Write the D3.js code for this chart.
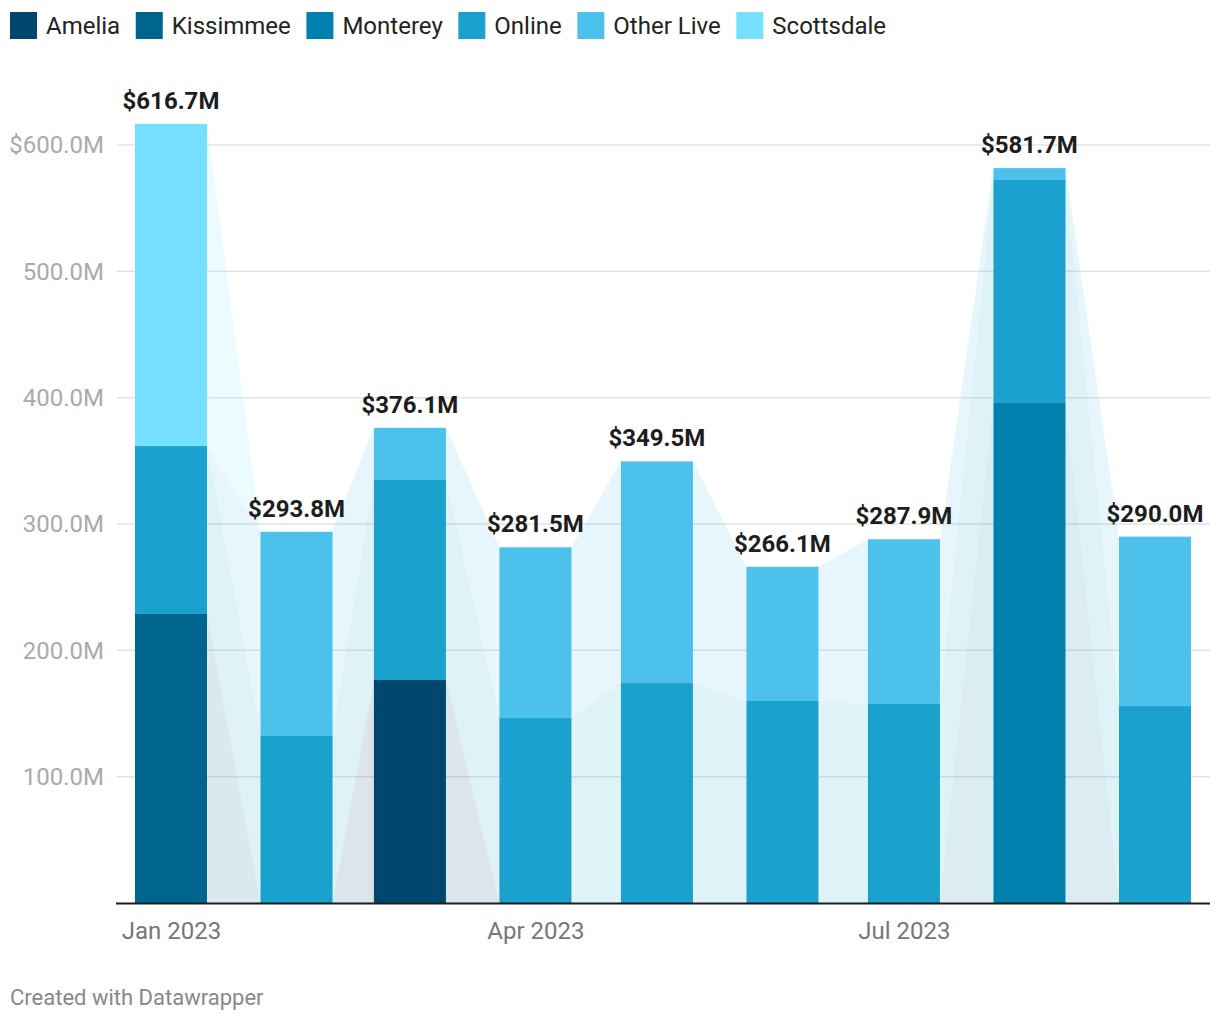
<!DOCTYPE html>
<html>
<head>
<meta charset="utf-8">
<script src="https://cdn.jsdelivr.net/npm/d3@7"></script>
<style>
  html, body { margin: 0; padding: 0; background: #fff; }
  svg { display: block; font-family: Roboto, "Noto Sans", sans-serif; }
</style>
</head>
<body>
<svg id="chart" width="1220" height="1020"></svg>
<script>
// ---- data ----
const months = ["2023-01-01","2023-02-01","2023-03-01","2023-04-01","2023-05-01","2023-06-01","2023-07-01","2023-08-01","2023-09-01"];
const seriesNames = ["Amelia","Kissimmee","Monterey","Online","Other Live","Scottsdale"];
const amelia     = [0, 0, 176.5, 0, 0, 0, 0, 0, 0];
const kissimmee  = [228.8, 0, 0, 0, 0, 0, 0, 0, 0];
const monterey   = [0, 0, 0, 0, 0, 0, 0, 395.8, 0];
const online     = [132.9, 132.2, 158.3, 146.4, 174.1, 159.9, 157.5, 176.5, 155.9];
const otherLive  = [0, 161.6, 41.3, 135.1, 175.4, 106.2, 130.4, 9.4, 134.1];
const scottsdale = [255.0, 0, 0, 0, 0, 0, 0, 0, 0];
const colors = ["#00476d","#00658c","#0081ad","#1aa1cd","#4cc1ec","#76e1fe"];
const yTicks = [100, 200, 300, 400, 500, 600];
const xTicks = ["2023-01-01","2023-04-01","2023-07-01"];

// ---- build table ----
const parse = d3.timeParse("%Y-%m-%d");
const seriesValues = [amelia, kissimmee, monterey, online, otherLive, scottsdale];
const rows = months.map((m, i) => {
  const r = { date: parse(m) };
  seriesNames.forEach((s, k) => r[s] = seriesValues[k][i]);
  return r;
});
const stacked = d3.stack().keys(seriesNames)(rows);
const totals = rows.map(r => d3.sum(seriesNames, s => r[s]));

// ---- layout ----
const svg = d3.select("#chart");
const barW = 72;
const x = d3.scaleTime().domain([parse(months[0]), parse(months[months.length - 1])]).range([171, 1155]);
const y = d3.scaleLinear().domain([0, 600]).range([903, 145]);
const plotLeft = 117, plotRight = 1210;

// legend
let lx = 10;
const legend = svg.append("g");
seriesNames.forEach((s, k) => {
  const g = legend.append("g").attr("transform", `translate(${lx},12)`);
  g.append("rect").attr("width", 27).attr("height", 27).attr("fill", colors[k]);
  const t = g.append("text").attr("x", 36).attr("y", 13.5).attr("dy", "0.35em")
    .attr("font-size", 24).attr("fill", "#222").text(s);
  lx += 36 + t.node().getComputedTextLength() + 15.6;
});

// gridlines + y labels
const grid = svg.append("g");
yTicks.forEach((t, i) => {
  grid.append("line").attr("x1", plotLeft).attr("x2", plotRight)
    .attr("y1", y(t)).attr("y2", y(t)).attr("stroke", "#e3e3e3").attr("stroke-width", 1.5);
  grid.append("text").attr("x", 104).attr("y", y(t)).attr("dy", "0.35em")
    .attr("text-anchor", "end").attr("font-size", 24).attr("fill", "#aaaaaa")
    .text((t === 600 ? "$" : "") + d3.format(".1f")(t) + "M");
});

// connector areas
const pts = [];
rows.forEach((r, i) => {
  pts.push({ xp: x(r.date) - barW / 2, i });
  pts.push({ xp: x(r.date) + barW / 2, i });
});
const areaG = svg.append("g");
stacked.forEach((layer, k) => {
  const area = d3.area()
    .x(p => p.xp)
    .y0(p => y(layer[p.i][0]))
    .y1(p => y(layer[p.i][1]));
  areaG.append("path").attr("d", area(pts)).attr("fill", colors[k]).attr("fill-opacity", 0.14);
});

// bars
const barG = svg.append("g");
stacked.forEach((layer, k) => {
  barG.selectAll(null).data(layer.filter(d => d[1] - d[0] > 0)).enter().append("rect")
    .attr("x", d => x(d.data.date) - barW / 2)
    .attr("width", barW)
    .attr("y", d => y(d[1]))
    .attr("height", d => y(d[0]) - y(d[1]))
    .attr("fill", colors[k]);
});

// value labels
svg.append("g").selectAll("text").data(rows).enter().append("text")
  .attr("x", d => x(d.date))
  .attr("y", (d, i) => y(totals[i]) - 15)
  .attr("text-anchor", "middle").attr("font-size", 24).attr("font-weight", "bold")
  .attr("fill", "#1d1d1d")
  .text((d, i) => "$" + d3.format(".1f")(totals[i]) + "M");

// x axis
svg.append("line").attr("x1", plotLeft - 1).attr("x2", plotRight)
  .attr("y1", 903.5).attr("y2", 903.5).attr("stroke", "#1d1d1d").attr("stroke-width", 2);
const xAxis = d3.axisBottom(x).tickValues(xTicks.map(parse)).tickFormat(d3.timeFormat("%b %Y")).tickSize(0).tickPadding(0);
const xa = svg.append("g").attr("transform", "translate(0,903)").call(xAxis);
xa.select(".domain").remove();
xa.selectAll("text").attr("font-size", 24).attr("fill", "#777").attr("font-family", "Roboto, sans-serif")
  .attr("dy", null).attr("y", 36);

// footer
svg.append("text").attr("x", 10).attr("y", 1005).attr("font-size", 22).attr("fill", "#888")
  .text("Created with Datawrapper");
</script>
</body>
</html>
